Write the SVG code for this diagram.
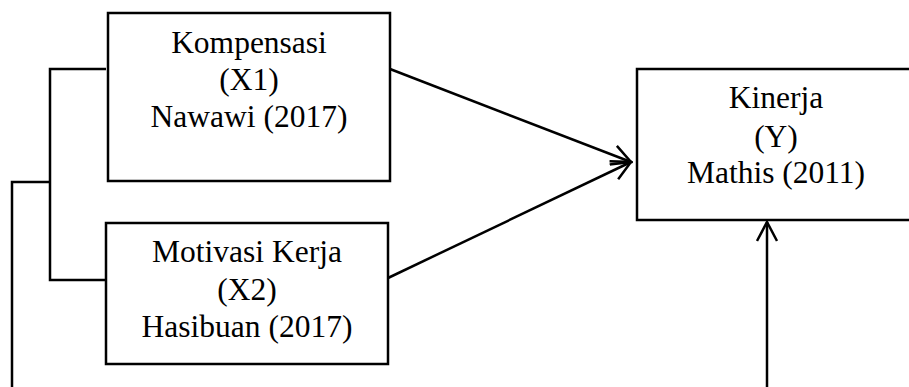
<svg xmlns="http://www.w3.org/2000/svg" width="909" height="387" viewBox="0 0 909 387">
<defs>
<style>
.box{fill:#fff;stroke:#000;stroke-width:2.5}
.ln{fill:none;stroke:#000;stroke-width:2.5}
.t{font-family:"Liberation Serif","Times New Roman",serif;font-size:31.5px;fill:#000;text-anchor:middle}
</style>
<marker id="arr" viewBox="0 0 22 22" refX="20" refY="11" markerWidth="22" markerHeight="22" markerUnits="userSpaceOnUse" orient="auto">
<path d="M1,1 L20,11 L1,21" fill="none" stroke="#000" stroke-width="2.5"/>
</marker>
</defs>
<rect width="909" height="387" fill="#fff"/>
<g id="connectors">
<path class="ln" d="M106,69 H50 V280 H106"/>
<path class="ln" d="M50,182 H12 V387"/>
<line class="ln" x1="390" y1="69" x2="631" y2="162" marker-end="url(#arr)"/>
<line class="ln" x1="388" y1="278" x2="631" y2="162" marker-end="url(#arr)"/>
<line class="ln" x1="767" y1="387" x2="767" y2="222" marker-end="url(#arr)"/>
</g>
<g id="kompensasi">
<rect class="box" x="108" y="13" width="282" height="168"/>
<text class="t" x="249" y="53">Kompensasi</text>
<text class="t" x="249" y="90">(X1)</text>
<text class="t" x="249" y="127">Nawawi (2017)</text>
</g>
<g id="motivasi">
<rect class="box" x="106" y="223" width="282" height="141"/>
<text class="t" x="247" y="262">Motivasi Kerja</text>
<text class="t" x="247" y="300">(X2)</text>
<text class="t" x="247" y="337">Hasibuan (2017)</text>
</g>
<g id="kinerja">
<rect class="box" x="637" y="69" width="280" height="151"/>
<text class="t" x="776" y="108">Kinerja</text>
<text class="t" x="776" y="147">(Y)</text>
<text class="t" x="776" y="183">Mathis (2011)</text>
</g>
</svg>
